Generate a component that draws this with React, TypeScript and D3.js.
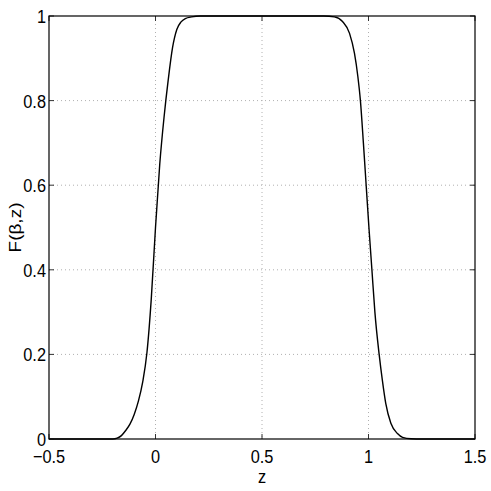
import * as d3 from 'd3';
import React from 'react';

const width = 491;
const height = 491;
const margin = { top: 16, right: 16, bottom: 52, left: 49 };

// values
const zValues = [
  -0.5, -0.25, -0.2, -0.18, -0.16, -0.14, -0.12, -0.1, -0.08, -0.06, -0.04, -0.02, 0.0, 0.02,
  0.04, 0.06, 0.08, 0.1, 0.12, 0.14, 0.17, 0.21, 0.3, 0.5, 0.7, 0.79, 0.84, 0.878, 0.911, 0.934,
  0.95, 0.962, 0.976, 0.989, 1.002, 1.016, 1.03, 1.05, 1.065, 1.081, 1.105, 1.136, 1.16, 1.2,
  1.25, 1.5
];
const fValues = [
  0, 0, 0, 0.002, 0.008, 0.02, 0.035, 0.058, 0.09, 0.135, 0.205, 0.33, 0.5, 0.65,
  0.76, 0.85, 0.925, 0.968, 0.986, 0.994, 0.998, 1, 1, 1, 1, 1, 0.998, 0.987, 0.959, 0.912,
  0.857, 0.8, 0.7, 0.6, 0.5, 0.4, 0.3, 0.2, 0.139, 0.084, 0.037, 0.013, 0.004, 0.0005,
  0, 0
];
const xTicks = [-0.5, 0, 0.5, 1, 1.5];
const xTickLabels = ['\u22120.5', '0', '0.5', '1', '1.5'];
const yTicks = [0, 0.2, 0.4, 0.6, 0.8, 1];
const yTickLabels = ['0', '0.2', '0.4', '0.6', '0.8', '1'];

const font = "Arial, 'Liberation Sans', Helvetica, sans-serif";
const squeeze = 0.86; // tick labels look narrow in the original

export default function App() {
  const x = d3.scaleLinear().domain([-0.5, 1.5]).range([margin.left, width - margin.right]);
  const y = d3.scaleLinear().domain([0, 1]).range([height - margin.bottom, margin.top]);
  const x0 = x.range()[0];
  const x1 = x.range()[1];
  const y0 = y.range()[0];
  const y1 = y.range()[1];

  const line = d3
    .line<number>()
    .x((d, i) => x(zValues[i]))
    .y(d => y(d))
    .curve(d3.curveMonotoneX);

  const tickLen = 5;

  return (
    <svg
      width={width}
      height={height}
      style={{ position: 'absolute', left: 0, top: 0, background: '#fff' }}
    >
      {/* dotted grid */}
      <g stroke="#b0b0b0" strokeWidth={1} strokeDasharray="1,3">
        {xTicks.slice(1, -1).map(t => (
          <line key={'gx' + t} x1={x(t)} x2={x(t)} y1={y1} y2={y0} />
        ))}
        {yTicks.slice(1, -1).map(t => (
          <line key={'gy' + t} x1={x0} x2={x1} y1={y(t)} y2={y(t)} />
        ))}
      </g>

      {/* curve */}
      <path d={line(fValues) || ''} fill="none" stroke="#000" strokeWidth={1.4} />

      {/* ticks, inward on all sides */}
      <g stroke="#333" strokeWidth={1}>
        {xTicks.map(t => (
          <g key={'tx' + t}>
            <line x1={x(t)} x2={x(t)} y1={y0} y2={y0 - tickLen} />
            <line x1={x(t)} x2={x(t)} y1={y1} y2={y1 + tickLen} />
          </g>
        ))}
        {yTicks.map(t => (
          <g key={'ty' + t}>
            <line x1={x0} x2={x0 + tickLen} y1={y(t)} y2={y(t)} />
            <line x1={x1} x2={x1 - tickLen} y1={y(t)} y2={y(t)} />
          </g>
        ))}
      </g>

      {/* frame */}
      <rect x={x0} y={y1} width={x1 - x0} height={y0 - y1} fill="none" stroke="#000" strokeWidth={1.2} />

      {/* tick labels */}
      <g fontFamily={font} fontSize={19} fill="#000">
        {xTicks.map((t, i) => (
          <text
            key={'lx' + t}
            textAnchor="middle"
            transform={`translate(${x(t)},${y0 + 24}) scale(${squeeze},1)`}
          >
            {xTickLabels[i]}
          </text>
        ))}
        {yTicks.map((t, i) => (
          <text
            key={'ly' + t}
            textAnchor="end"
            transform={`translate(${x0 - 3},${y(t) + 7}) scale(${squeeze},1)`}
          >
            {yTickLabels[i]}
          </text>
        ))}
      </g>

      {/* axis titles */}
      <text
        fontFamily={font}
        fontSize={19}
        textAnchor="middle"
        transform={`translate(${(x0 + x1) / 2},${y0 + 44}) scale(${squeeze},1)`}
      >
        z
      </text>
      <text
        fontFamily={font}
        fontSize={19}
        textAnchor="middle"
        transform={`translate(${21},${(y0 + y1) / 2}) rotate(-90) scale(1,${squeeze})`}
      >
        F(β,z)
      </text>
    </svg>
  );
}
